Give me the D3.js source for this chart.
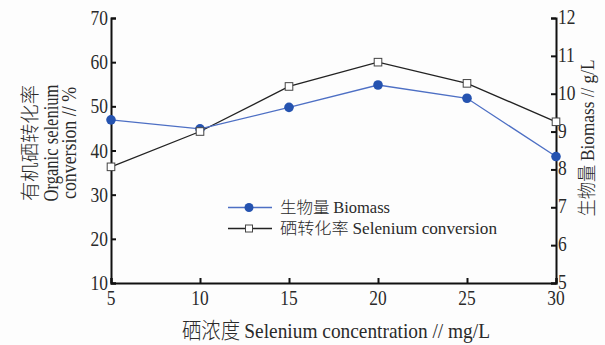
<!DOCTYPE html>
<html>
<head>
<meta charset="utf-8">
<script src="https://cdn.jsdelivr.net/npm/d3@7"></script>
<style>
  html, body { margin: 0; padding: 0; background: #fdfdfd; }
  svg { display: block; }
  text { font-family: "Liberation Serif", "Noto Sans CJK SC", serif; fill: #2a2a2a; }
  .cjk { font-family: "Noto Sans CJK SC", sans-serif; font-weight: 300; }
</style>
</head>
<body>
<svg id="chart" width="605" height="345"></svg>
<script>
// Selenium concentration (mg/L)
const concentrations = [5, 10, 15, 20, 25, 30];
// Biomass (g/L), right axis
const biomass = [9.31, 9.07, 9.64, 10.23, 9.88, 8.34];
// Organic selenium conversion (%), left axis
const conversion = [36.3, 44.3, 54.5, 60.0, 55.2, 46.5];

const xTicks = [5, 10, 15, 20, 25, 30];
const leftTicks = [10, 20, 30, 40, 50, 60, 70];
const rightTicks = [5, 6, 7, 8, 9, 10, 11, 12];

const svg = d3.select("#chart");
const m = { left: 111, right: 556, top: 18, bottom: 283 };

const x = d3.scaleLinear().domain([5, 30]).range([m.left, m.right]);
const yL = d3.scaleLinear().domain([10, 70]).range([m.bottom, m.top]);
const yR = d3.scaleLinear().domain([5, 12]).range([m.bottom, m.top]);

const tickFont = 21;
const squeeze = 0.83; // narrow numerals

// Axes with inward ticks
const xAxis = svg.append("g").attr("transform", `translate(0,${m.bottom})`)
  .call(d3.axisTop(x).tickValues(xTicks).tickSize(5).tickFormat(""));
const leftAxis = svg.append("g").attr("transform", `translate(${m.left},0)`)
  .call(d3.axisRight(yL).tickValues(leftTicks).tickSize(5).tickFormat(""));
const rightAxis = svg.append("g").attr("transform", `translate(${m.right},0)`)
  .call(d3.axisLeft(yR).tickValues(rightTicks).tickSize(5).tickFormat(""));

[xAxis, leftAxis, rightAxis].forEach(g => {
  g.select(".domain").attr("stroke", "#111").attr("stroke-width", 2);
  g.selectAll(".tick line").attr("stroke", "#111").attr("stroke-width", 2);
});

// Tick labels
svg.append("g").selectAll("text").data(xTicks).join("text")
  .attr("transform", d => `translate(${x(d)},${m.bottom + 22}) scale(${squeeze},1)`)
  .attr("text-anchor", "middle").attr("font-size", tickFont)
  .text(d => d);
svg.append("g").selectAll("text").data(leftTicks).join("text")
  .attr("transform", d => `translate(${m.left - 3},${yL(d) + 7}) scale(${squeeze},1)`)
  .attr("text-anchor", "end").attr("font-size", tickFont)
  .text(d => d);
svg.append("g").selectAll("text").data(rightTicks).join("text")
  .attr("transform", d => `translate(${m.right + 2},${yR(d) + 6}) scale(${squeeze},1)`)
  .attr("text-anchor", "start").attr("font-size", tickFont)
  .text(d => d);

// Series lines
const convLine = d3.line().x((d, i) => x(concentrations[i])).y(d => yL(d));
const bioLine = d3.line().x((d, i) => x(concentrations[i])).y(d => yR(d));

svg.append("path").datum(conversion).attr("d", convLine)
  .attr("fill", "none").attr("stroke", "#222").attr("stroke-width", 1.3);
svg.append("path").datum(biomass).attr("d", bioLine)
  .attr("fill", "none").attr("stroke", "#4d6fc4").attr("stroke-width", 1.3);

svg.append("g").selectAll("circle").data(biomass).join("circle")
  .attr("cx", (d, i) => x(concentrations[i])).attr("cy", d => yR(d))
  .attr("r", 4.8).attr("fill", "#2553b0");
svg.append("g").selectAll("rect").data(conversion).join("rect")
  .attr("x", (d, i) => x(concentrations[i]) - 3.8).attr("y", d => yL(d) - 3.8)
  .attr("width", 7.6).attr("height", 7.6)
  .attr("fill", "#fff").attr("stroke", "#444").attr("stroke-width", 1);

// Legend
const lg = svg.append("g");
lg.append("line").attr("x1", 228).attr("x2", 272).attr("y1", 207.5).attr("y2", 207.5)
  .attr("stroke", "#4d6fc4").attr("stroke-width", 1.3);
lg.append("circle").attr("cx", 249).attr("cy", 207.5).attr("r", 4.5).attr("fill", "#2553b0");
lg.append("line").attr("x1", 228).attr("x2", 272).attr("y1", 228.5).attr("y2", 228.5)
  .attr("stroke", "#222").attr("stroke-width", 1.3);
lg.append("rect").attr("x", 245.5).attr("y", 225).attr("width", 7).attr("height", 7)
  .attr("fill", "#fff").attr("stroke", "#444");
const lt1 = lg.append("text").attr("x", 280).attr("y", 213).attr("font-size", 16)
  .attr("textLength", 110).attr("lengthAdjust", "spacingAndGlyphs");
lt1.append("tspan").attr("class", "cjk").text("生物量 ");
lt1.append("tspan").text("Biomass");
const lt2 = lg.append("text").attr("x", 280).attr("y", 234).attr("font-size", 16)
  .attr("textLength", 217).attr("lengthAdjust", "spacingAndGlyphs");
lt2.append("tspan").attr("class", "cjk").text("硒转化率 ");
lt2.append("tspan").text("Selenium conversion");

// Left axis title (three rotated lines)
const leftTitle = svg.append("g").attr("transform", "translate(0,143) rotate(-90)");
leftTitle.append("text").attr("class", "cjk").attr("x", 0).attr("y", 37)
  .attr("text-anchor", "middle").attr("font-size", 19)
  .attr("textLength", 116).attr("lengthAdjust", "spacingAndGlyphs").text("有机硒转化率");
leftTitle.append("text").attr("x", 0).attr("y", 58)
  .attr("text-anchor", "middle").attr("font-size", 20)
  .attr("textLength", 117).attr("lengthAdjust", "spacingAndGlyphs").text("Organic selenium");
leftTitle.append("text").attr("x", 0).attr("y", 76)
  .attr("text-anchor", "middle").attr("font-size", 20)
  .attr("textLength", 112).attr("lengthAdjust", "spacingAndGlyphs").text("conversion // %");

// Right axis title
const rt = svg.append("text").attr("transform", "translate(594,138) rotate(-90)")
  .attr("text-anchor", "middle").attr("font-size", 19)
  .attr("textLength", 157).attr("lengthAdjust", "spacingAndGlyphs");
rt.append("tspan").attr("class", "cjk").text("生物量 ");
rt.append("tspan").text("Biomass // g/L");

// X axis title
const xt = svg.append("text").attr("x", 336).attr("y", 338)
  .attr("text-anchor", "middle").attr("font-size", 22)
  .attr("textLength", 308).attr("lengthAdjust", "spacingAndGlyphs");
xt.append("tspan").attr("class", "cjk").text("硒浓度 ");
xt.append("tspan").text("Selenium concentration // mg/L");
</script>
</body>
</html>
